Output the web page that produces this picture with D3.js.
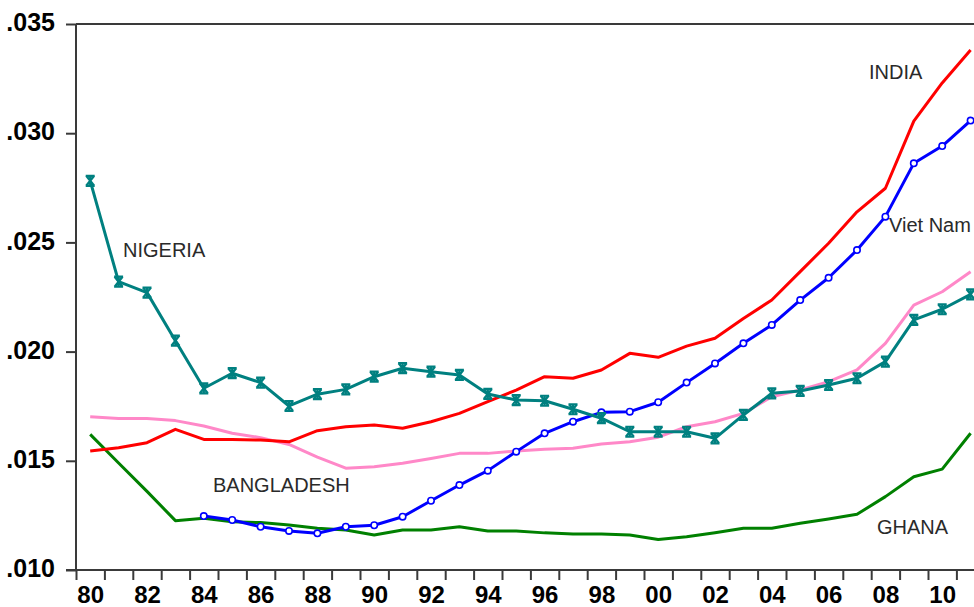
<!DOCTYPE html>
<html>
<head>
<meta charset="utf-8">
<script src="https://cdn.jsdelivr.net/npm/d3@7"></script>
<style>
  html, body { margin: 0; padding: 0; background: #fff; overflow: hidden; }
  svg { display: block; }
</style>
</head>
<body>
<svg id="chart" width="974" height="607"></svg>
<script>
// Annual series, 1980-2011
const years = d3.range(1980, 2012);

const india = [0.01545,0.01560,0.01583,0.01644,0.01598,0.01598,0.01595,0.01587,0.01638,0.01656,
  0.01664,0.01649,0.01679,0.01717,0.01771,0.01824,0.01885,0.01878,0.01916,0.01992,
  0.01974,0.02025,0.02061,0.02152,0.02236,0.02366,0.02496,0.02640,0.02748,0.03055,
  0.03230,0.03381];

const vietNam = [null,null,null,null,0.01247,0.01229,0.01198,0.01179,0.01168,0.01198,
  0.01205,0.01244,0.01317,0.01389,0.01455,0.01542,0.01626,0.01679,0.01722,0.01725,
  0.01768,0.01858,0.01946,0.02038,0.02122,0.02236,0.02338,0.02465,0.02618,0.02862,
  0.02941,0.03058];

const bangladesh = [0.01702,0.01694,0.01694,0.01684,0.01659,0.01626,0.01606,0.01575,0.01517,0.01466,
  0.01473,0.01489,0.01511,0.01534,0.01534,0.01545,0.01553,0.01557,0.01577,0.01587,
  0.01608,0.01656,0.01679,0.01717,0.01793,0.01824,0.01862,0.01916,0.02038,0.02213,
  0.02274,0.02366];

const nigeria = [0.02782,0.02320,0.02270,0.02050,0.01832,0.01901,0.01858,0.01751,0.01805,0.01827,
  0.01885,0.01924,0.01908,0.01893,0.01806,0.01778,0.01775,0.01736,0.01695,0.01633,
  0.01633,0.01633,0.01603,0.01710,0.01809,0.01820,0.01847,0.01878,0.01954,0.02145,
  0.02194,0.02262];

const ghana = [0.01621,0.01490,0.01360,0.01226,0.01237,0.01221,0.01217,0.01206,0.01191,0.01183,
  0.01160,0.01183,0.01183,0.01198,0.01179,0.01179,0.01170,0.01165,0.01165,0.01160,
  0.01140,0.01152,0.01171,0.01191,0.01191,0.01214,0.01234,0.01255,0.01336,0.01427,
  0.01462,0.01626];

const yTicks = [0.010, 0.015, 0.020, 0.025, 0.030, 0.035];
const xLabelYears = d3.range(1980, 2012, 2);

const series = [
  { name: "BANGLADESH", values: bangladesh, color: "#ff88c8", marker: null },
  { name: "GHANA",      values: ghana,      color: "#008000", marker: null },
  { name: "INDIA",      values: india,      color: "#ff0000", marker: null },
  { name: "Viet Nam",   values: vietNam,    color: "#0000ff", marker: "circle" },
  { name: "NIGERIA",    values: nigeria,    color: "#008080", marker: "cross" }
];

const labels = [
  { text: "INDIA",      x: 869, y: 79 },
  { text: "Viet Nam",   x: 889, y: 232 },
  { text: "NIGERIA",    x: 123, y: 257 },
  { text: "BANGLADESH", x: 213, y: 492 },
  { text: "GHANA",      x: 877, y: 534 }
];

const svg = d3.select("#chart");
const plotLeft = 76, plotTop = 24, plotBottom = 570;
const yearWidth = 28.4;

const x = d3.scaleLinear().domain([1979.5, 2011.5]).range([plotLeft, plotLeft + 32 * yearWidth]);
const y = d3.scaleLinear().domain([0.010, 0.035]).range([plotBottom, plotTop]);

const axisColor = "#3a3a3a";
const tickFont = "'Liberation Sans', Arial, sans-serif";

// Frame: top border
svg.append("line")
  .attr("x1", plotLeft).attr("x2", 1000)
  .attr("y1", plotTop).attr("y2", plotTop)
  .attr("stroke", axisColor).attr("stroke-width", 2);

// Y axis
const yAxis = svg.append("g")
  .attr("transform", `translate(${plotLeft},0)`)
  .call(d3.axisLeft(y).tickValues(yTicks).tickSize(10).tickPadding(11)
    .tickFormat(d => d3.format(".3f")(d).replace(/^0/, "")));
yAxis.select(".domain").attr("stroke", axisColor).attr("stroke-width", 2)
  .attr("d", `M0,${plotTop}V${plotBottom}`);
yAxis.selectAll(".tick line").attr("stroke", axisColor).attr("stroke-width", 2);
yAxis.selectAll(".tick text")
  .attr("fill", "#000")
  .attr("dy", "0.27em")
  .style("font-family", tickFont)
  .style("font-weight", "bold")
  .style("font-size", "25px");

// X axis: ticks at year boundaries
const xTicks = d3.range(1979.5, 2012, 1);
const xAxis = svg.append("g")
  .attr("transform", `translate(0,${plotBottom})`)
  .call(d3.axisBottom(x).tickValues(xTicks).tickSize(10).tickFormat(""));
xAxis.select(".domain").attr("stroke", axisColor).attr("stroke-width", 2)
  .attr("d", `M${plotLeft - 10},0H1000`);
xAxis.selectAll(".tick line").attr("stroke", axisColor).attr("stroke-width", 2);

// X labels at the centre of even years
const xLab = svg.append("g")
  .attr("transform", `translate(0,${plotBottom})`)
  .call(d3.axisBottom(x).tickValues(xLabelYears).tickSize(0).tickPadding(16)
    .tickFormat(d => String(d % 100).padStart(2, "0")));
xLab.select(".domain").remove();
xLab.selectAll(".tick text")
  .attr("fill", "#000")
  .style("font-family", tickFont)
  .style("font-weight", "bold")
  .style("font-size", "24px");

// Series lines
const line = d3.line()
  .defined(d => d.v != null)
  .x(d => x(d.year))
  .y(d => y(d.v));

const crossPath = "M-4.5,-5H4.5M-4.5,5H4.5M-4,-5L4,5M4,-5L-4,5M0,-5V5";

series.forEach(s => {
  const pts = years.map((yr, i) => ({ year: yr, v: s.values[i] }));
  svg.append("path")
    .datum(pts)
    .attr("fill", "none")
    .attr("stroke", s.color)
    .attr("stroke-width", 3)
    .attr("stroke-linejoin", "round")
    .attr("d", line);

  const marked = pts.filter(d => d.v != null);
  if (s.marker === "circle") {
    svg.append("g").selectAll("circle")
      .data(marked).join("circle")
      .attr("cx", d => x(d.year))
      .attr("cy", d => y(d.v))
      .attr("r", 3.2)
      .attr("fill", "#fff")
      .attr("stroke", s.color)
      .attr("stroke-width", 1.6);
  } else if (s.marker === "cross") {
    svg.append("g").selectAll("path")
      .data(marked).join("path")
      .attr("transform", d => `translate(${x(d.year)},${y(d.v)})`)
      .attr("d", crossPath)
      .attr("fill", "none")
      .attr("stroke", s.color)
      .attr("stroke-width", 2.2);
  }
});

// Series names
svg.append("g").selectAll("text")
  .data(labels).join("text")
  .attr("x", d => d.x)
  .attr("y", d => d.y)
  .attr("fill", "#2a2a2a")
  .style("font-family", "'Liberation Sans', Arial, sans-serif")
  .style("font-size", "20px")
  .text(d => d.text);
</script>
</body>
</html>
